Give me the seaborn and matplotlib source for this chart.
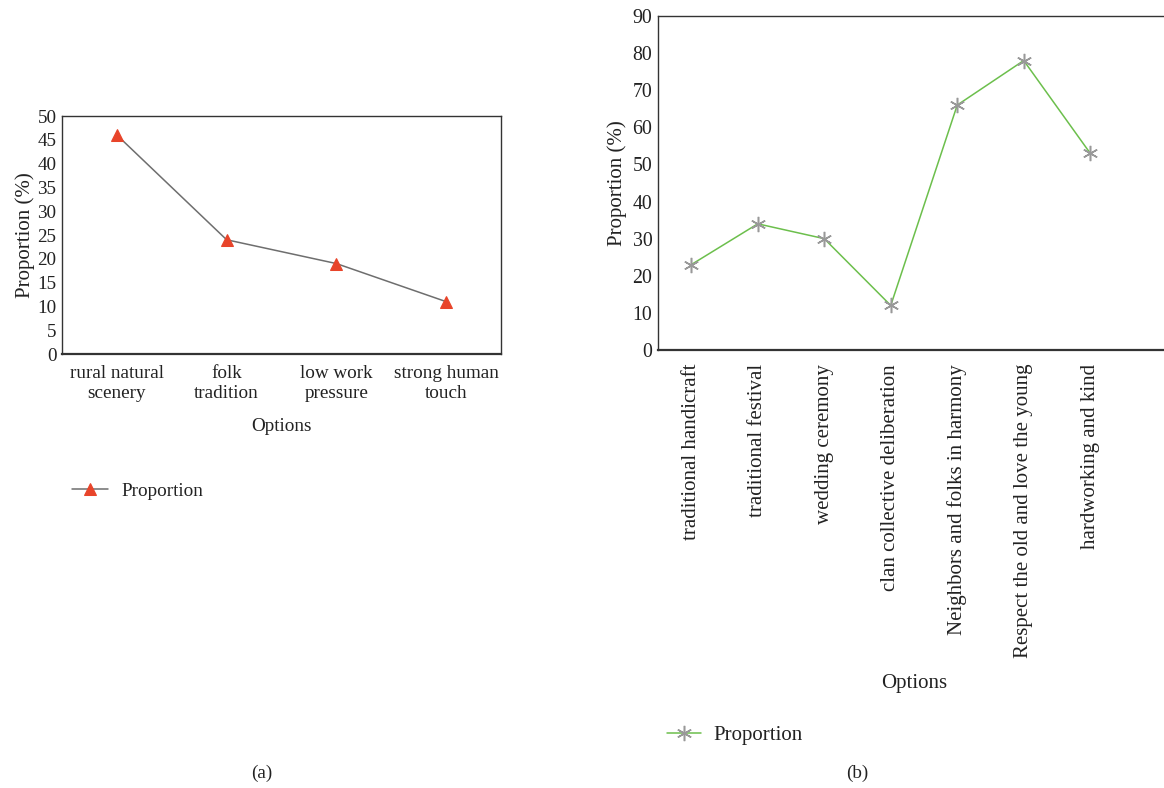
import pandas as pd
import matplotlib
matplotlib.use("Agg")
import matplotlib.pyplot as plt
import seaborn as sns

# panel (a)
options_a = ["rural natural\nscenery", "folk\ntradition", "low work\npressure", "strong human\ntouch"]
values_a = [46, 24, 19, 11]

# panel (b)
options_b = ["traditional handicraft", "traditional festival", "wedding ceremony",
             "clan collective deliberation", "Neighbors and folks in harmony",
             "Respect the old and love the young", "hardworking and kind"]
values_b = [23, 34, 30, 12, 66, 78, 53]

sns.set_theme(style="white")
plt.rcParams["font.family"] = ["Liberation Serif", "DejaVu Serif"]
plt.rcParams["text.color"] = "#222222"
plt.rcParams["axes.labelcolor"] = "#222222"
plt.rcParams["xtick.color"] = "#222222"
plt.rcParams["ytick.color"] = "#222222"

W, H = 1164, 788
fig = plt.figure(figsize=(W / 100, H / 100), dpi=100)

def box(x0, y0, x1, y1):
    return [x0 / W, 1 - y1 / H, (x1 - x0) / W, (y1 - y0) / H]

fs = 13.8
fsb = 15.0

# ---- (a)
ax1 = fig.add_axes(box(62, 116, 501, 354))
df_a = pd.DataFrame({"option": options_a, "prop": values_a})
sns.lineplot(data=df_a, x="option", y="prop", ax=ax1, sort=False, color="#6e6e6e",
             linewidth=1.1, marker="^", markersize=8, markerfacecolor="#e8442a",
             markeredgecolor="#e8442a", label="Proportion")
ax1.set_xlim(-0.5, 3.5)
ax1.set_ylim(0, 50)
ax1.set_yticks(range(0, 51, 5))
ax1.set_xlabel("Options", fontsize=fs, labelpad=12)
ax1.set_ylabel("Proportion (%)", fontsize=15, labelpad=2)
ax1.tick_params(axis="both", length=0, labelsize=fs, pad=4)
ax1.tick_params(axis="x", pad=8)
for s in ax1.spines.values():
    s.set_color("#333333")
    s.set_linewidth(1.0)
ax1.spines["bottom"].set_linewidth(1.6)
ax1.legend(loc="center left", bbox_to_anchor=(64 / W, 1 - 491 / H), bbox_transform=fig.transFigure,
           frameon=False, fontsize=fs, handlelength=1.9, handletextpad=0.7, borderaxespad=0)

# ---- (b)
ax2 = fig.add_axes(box(658, 16, 1168, 350))
df_b = pd.DataFrame({"option": options_b, "prop": values_b})
sns.lineplot(data=df_b, x="option", y="prop", ax=ax2, sort=False, color="#6cbf4c",
             linewidth=1.1, marker=(6, 2, 0), markersize=11, markeredgewidth=1.1,
             markeredgecolor="#999999", markerfacecolor="#999999", label="Proportion")
ax2.set_xlim(-0.5, -0.5 + (1168 - 658) / 66.5)
ax2.set_ylim(0, 90)
ax2.set_yticks(range(0, 91, 10))
ax2.set_xticks(range(len(options_b)))
ax2.set_xticklabels(options_b, rotation=90, va="top", ha="center", fontsize=fsb)
ax2.set_xlabel("Options", fontsize=fsb, labelpad=11)
ax2.set_ylabel("Proportion (%)", fontsize=15, labelpad=4)
ax2.tick_params(axis="both", length=0, pad=4)
ax2.tick_params(axis="y", labelsize=14.3)
ax2.tick_params(axis="x", pad=10)
ax2.xaxis.label.set_position(((914 - 658) / (1168 - 658), 0))
for s in ax2.spines.values():
    s.set_color("#333333")
    s.set_linewidth(1.0)
ax2.spines["bottom"].set_linewidth(1.6)
ax2.legend(loc="center left", bbox_to_anchor=(659 / W, 1 - 735 / H), bbox_transform=fig.transFigure,
           frameon=False, fontsize=fsb, handlelength=1.6, handletextpad=0.6, borderaxespad=0)

fig.text(262 / W, 1 - 773 / H, "(a)", ha="center", va="center", fontsize=fs)
fig.text(857 / W, 1 - 773 / H, "(b)", ha="center", va="center", fontsize=fs)

fig.savefig("out.png", dpi=100)
